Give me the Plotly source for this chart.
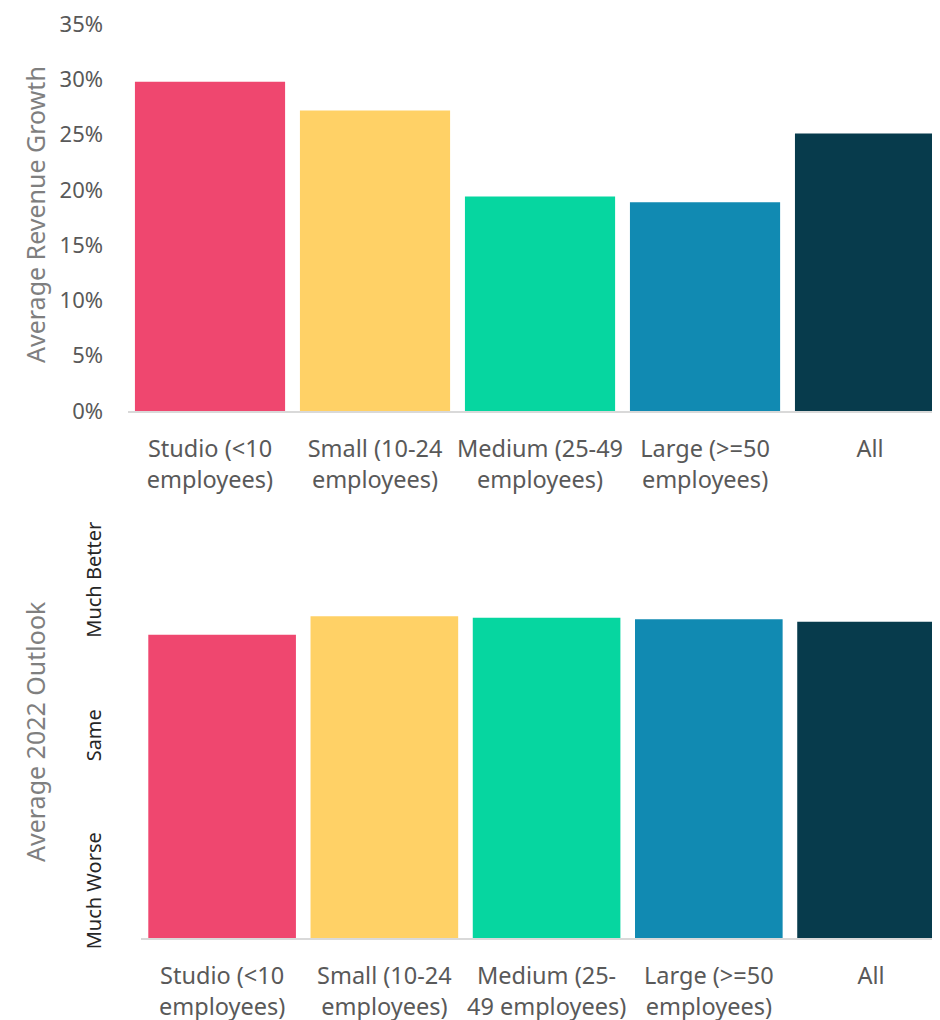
import plotly.graph_objects as go

categories_top = ["Studio (<10<br>employees)", "Small (10-24<br>employees)", "Medium (25-49<br>employees)",
                  "Large (>=50<br>employees)", "All"]
categories_bottom = ["Studio (<10<br>employees)", "Small (10-24<br>employees)", "Medium (25-<br>49 employees)",
                     "Large (>=50<br>employees)", "All"]
revenue_growth = [0.298, 0.272, 0.194, 0.189, 0.251]
outlook = [4.33, 4.57, 4.55, 4.53, 4.50]
outlook_tickvals = [1, 3, 5]
outlook_ticktext = ["Much Worse", "Same", "Much Better"]
revenue_tickvals = [0, 0.05, 0.10, 0.15, 0.20, 0.25, 0.30, 0.35]
colors = ["#EF476F", "#FFD166", "#06D6A0", "#118AB2", "#073B4C"]

FONT = "Noto Sans"
fig = go.Figure()
fig.add_trace(go.Bar(x=categories_top, y=revenue_growth, marker=dict(color=colors, line=dict(width=0)),
                     xaxis="x", yaxis="y", showlegend=False))
fig.add_trace(go.Bar(x=categories_bottom, y=outlook, marker=dict(color=colors, line=dict(width=0)),
                     xaxis="x2", yaxis="y2", showlegend=False))

# page body has an 8px margin, so the figure is sized to fill the 940x1020 window
W, H = 932, 1012
OFF = 8
TICK = "#595959"
fig.update_layout(
    width=W, height=H, margin=dict(l=0, r=0, t=0, b=0, autoexpand=False),
    paper_bgcolor="white", plot_bgcolor="white",
    font=dict(family=FONT, color=TICK),
    bargap=0.09,
    xaxis=dict(domain=[(128 - OFF) / W, 1], range=[-0.497, 4.424], showgrid=False, showline=True,
               linecolor="#d9d9d9", linewidth=1.5, ticks="", tickangle=0, automargin=False,
               ticklabelstandoff=16, tickfont=dict(size=23.5, color=TICK), anchor="y"),
    yaxis=dict(domain=[1 - (411 - OFF) / H, 1 - (24 - OFF) / H], range=[0, 0.3502],
               tickvals=revenue_tickvals, tickformat=".0%", showgrid=False, zeroline=False, ticks="",
               ticklabelstandoff=24, automargin=False, ticklabeloverflow="allow",
               tickfont=dict(size=22, color=TICK), anchor="x"),
    xaxis2=dict(domain=[(141 - OFF) / W, 1], range=[-0.5, 4.425], showgrid=False, showline=True,
                linecolor="#d9d9d9", linewidth=1.5, ticks="", tickangle=0, automargin=False,
                ticklabelstandoff=16, tickfont=dict(size=23.5, color=TICK), anchor="y2"),
    yaxis2=dict(domain=[1 - (938 - OFF) / H, 1 - (540 - OFF) / H], range=[0.431, 5.55],
                tickvals=outlook_tickvals, ticktext=outlook_ticktext, tickangle=-90, showgrid=False,
                zeroline=False, ticks="", ticklabelstandoff=35, automargin=False,
                tickfont=dict(size=20, color="#262626"), anchor="x2"),
    annotations=[
        dict(text="Average Revenue Growth", textangle=-90, x=(35 - OFF) / W, y=1 - (215 - OFF) / H,
             xref="paper", yref="paper", showarrow=False, font=dict(size=25, color="#7f7f7f"),
             xanchor="center", yanchor="middle"),
        dict(text="Average 2022 Outlook", textangle=-90, x=(35 - OFF) / W, y=1 - (732 - OFF) / H,
             xref="paper", yref="paper", showarrow=False, font=dict(size=25, color="#7f7f7f"),
             xanchor="center", yanchor="middle"),
    ],
)
fig.write_html("out.html")
